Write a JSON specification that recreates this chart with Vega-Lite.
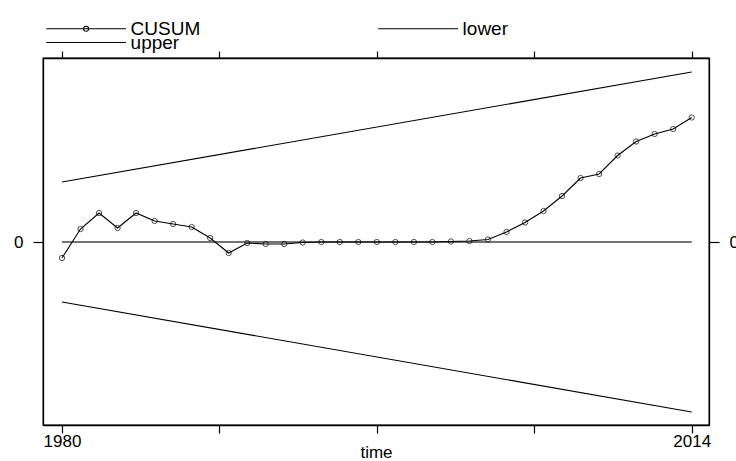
{
  "$schema": "https://vega.github.io/schema/vega-lite/v6.json",
  "autosize": "none",
  "width": 666,
  "height": 367,
  "padding": {"left": 43, "top": 58, "right": 27, "bottom": 36},
  "background": "white",
  "config": {
    "font": "Liberation Sans",
    "view": {"stroke": "black", "strokeWidth": 1.3},
    "axis": {"grid": false, "domainColor": "black", "tickColor": "black", "labelColor": "black", "titleColor": "black", "labelFont": "Liberation Sans", "titleFont": "Liberation Sans", "labelFontSize": 17, "titleFontSize": 17, "titleFontWeight": "normal", "tickSize": 8, "tickWidth": 1.2, "domainWidth": 1.3}
  },
  "datasets": {
    "cusum": [
      {"year": 1980, "series": "CUSUM", "value": -1.6},
      {"year": 1981, "series": "CUSUM", "value": 1.3},
      {"year": 1982, "series": "CUSUM", "value": 2.9},
      {"year": 1983, "series": "CUSUM", "value": 1.4},
      {"year": 1984, "series": "CUSUM", "value": 2.9},
      {"year": 1985, "series": "CUSUM", "value": 2.1},
      {"year": 1986, "series": "CUSUM", "value": 1.8},
      {"year": 1987, "series": "CUSUM", "value": 1.5},
      {"year": 1988, "series": "CUSUM", "value": 0.4},
      {"year": 1989, "series": "CUSUM", "value": -1.1},
      {"year": 1990, "series": "CUSUM", "value": -0.1},
      {"year": 1991, "series": "CUSUM", "value": -0.2},
      {"year": 1992, "series": "CUSUM", "value": -0.2},
      {"year": 1993, "series": "CUSUM", "value": -0.05},
      {"year": 1994, "series": "CUSUM", "value": 0.0},
      {"year": 1995, "series": "CUSUM", "value": 0.0},
      {"year": 1996, "series": "CUSUM", "value": 0.0},
      {"year": 1997, "series": "CUSUM", "value": 0.0},
      {"year": 1998, "series": "CUSUM", "value": 0.0},
      {"year": 1999, "series": "CUSUM", "value": 0.0},
      {"year": 2000, "series": "CUSUM", "value": 0.0},
      {"year": 2001, "series": "CUSUM", "value": 0.05},
      {"year": 2002, "series": "CUSUM", "value": 0.1},
      {"year": 2003, "series": "CUSUM", "value": 0.25},
      {"year": 2004, "series": "CUSUM", "value": 1.0},
      {"year": 2005, "series": "CUSUM", "value": 1.95},
      {"year": 2006, "series": "CUSUM", "value": 3.1},
      {"year": 2007, "series": "CUSUM", "value": 4.6},
      {"year": 2008, "series": "CUSUM", "value": 6.4},
      {"year": 2009, "series": "CUSUM", "value": 6.8},
      {"year": 2010, "series": "CUSUM", "value": 8.65},
      {"year": 2011, "series": "CUSUM", "value": 10.05},
      {"year": 2012, "series": "CUSUM", "value": 10.8},
      {"year": 2013, "series": "CUSUM", "value": 11.3},
      {"year": 2014, "series": "CUSUM", "value": 12.45},
      {"year": 1980, "series": "lower", "value": -6.0},
      {"year": 2014, "series": "lower", "value": -17.0},
      {"year": 1980, "series": "upper", "value": 6.0},
      {"year": 2014, "series": "upper", "value": 17.0}
    ],
    "zero": [
      {"year": 1980, "value": 0},
      {"year": 2014, "value": 0}
    ]
  },
  "encoding": {
    "x": {"field": "year", "type": "quantitative", "scale": {"domain": [1978.974, 2014.934], "nice": false, "zero": false}, "axis": null},
    "y": {"field": "value", "type": "quantitative", "scale": {"domain": [-18.3, 18.4], "nice": false, "zero": false}, "axis": null}
  },
  "layer": [
    {
      "data": {"name": "zero"},
      "mark": {"type": "line", "color": "#444444", "strokeWidth": 1.4},
      "encoding": {
        "x": {"field": "year", "type": "quantitative", "axis": {"orient": "bottom", "values": [1980, 1988.5, 1997, 2005.5, 2014], "labelExpr": "datum.value == 1980 || datum.value == 2014 ? toString(datum.value) : ''", "title": "time", "titlePadding": -5, "labelPadding": 0}},
        "y": {"field": "value", "type": "quantitative", "axis": {"orient": "left", "values": [0], "title": null, "tickSize": 10, "labelPadding": 10}}
      }
    },
    {
      "data": {"name": "zero"},
      "mark": {"type": "line", "opacity": 0},
      "encoding": {
        "x": {"field": "year", "type": "quantitative", "axis": {"orient": "top", "values": [1980, 1988.5, 1997, 2005.5, 2014], "labels": false, "title": null, "tickSize": 7}},
        "y": {"field": "value", "type": "quantitative", "axis": {"orient": "right", "values": [0], "title": null, "tickSize": 10, "labelPadding": 10}}
      }
    },
    {
      "data": {"name": "cusum"},
      "mark": {"type": "line", "strokeWidth": 1.1},
      "encoding": {
        "color": {
          "field": "series", "type": "nominal",
          "scale": {"domain": ["CUSUM", "upper", "lower"], "range": ["black", "black", "black"]},
          "legend": {
            "title": null, "orient": "none", "legendX": 33.6, "legendY": -39, "columns": 2,
            "columnPadding": 175, "rowPadding": -6,
            "symbolSize": 196, "symbolStrokeWidth": 1.1,
            "labelFont": "Liberation Sans", "labelFontSize": 19, "labelColor": "black", "labelOffset": 35,
            "encode": {
              "symbols": {"update": {"shape": [{"test": "datum.value === 'CUSUM'", "value": "M-5.7,0H5.7M-0.36,0A0.36,0.36 0 1,0 0.36,0A0.36,0.36 0 1,0 -0.36,0"}, {"test": "datum.value === 'upper'", "value": "M-5.7,-0.86H5.7"}, {"value": "M-5.7,0H5.7"}], "fill": {"value": "transparent"}}},
              "labels": {"update": {"dy": [{"test": "datum.value === 'upper'", "value": -6}, {"value": 0}]}}
            }
          }
        }
      }
    },
    {
      "data": {"name": "cusum"},
      "transform": [{"filter": "datum.series === 'CUSUM'"}],
      "mark": {"type": "point", "shape": "circle", "filled": false, "color": "black", "size": 28, "strokeWidth": 1}
    }
  ]
}
